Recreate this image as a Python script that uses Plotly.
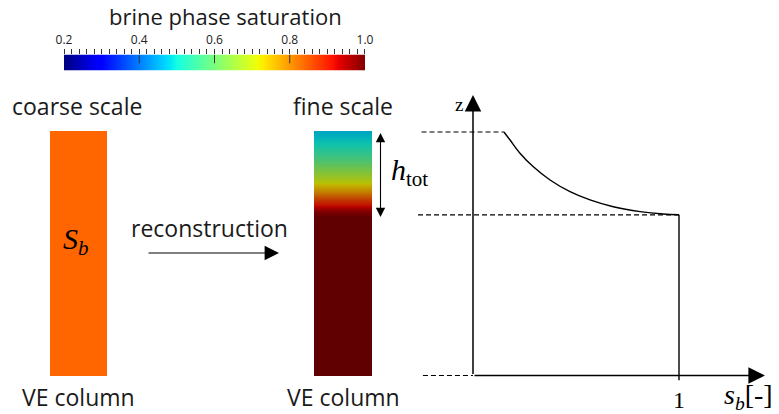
import plotly.graph_objects as go

W, H = 779, 414

# ---------------- data ----------------
cb_title = "brine phase saturation"
cb_range = [0.2, 1.0]
cb_tickvals = [0.2, 0.4, 0.6, 0.8, 1.0]
cb_ticktext = ["0.2", "0.4", "0.6", "0.8", "1.0"]
cb_minor_step = 0.02

coarse_sb = 0.84
coarse_color = "#ff6600"

fine_z = [0.0, 0.62, 0.648, 0.668, 0.693, 0.721, 0.754, 0.795, 0.836, 0.885, 0.947, 1.0]
fine_sb = [1.0, 1.0, 1.0, 0.98, 0.92, 0.86, 0.78, 0.70, 0.64, 0.57, 0.50, 0.47]

profile_s = [0.150, 0.180, 0.228, 0.293, 0.374, 0.471, 0.568, 0.681, 0.811, 0.924, 1.0]
profile_z = [1.0, 0.967, 0.913, 0.857, 0.803, 0.755, 0.721, 0.693, 0.673, 0.663, 0.66]
z_interface = 0.66
z_top = 1.0

labels = {
    "coarse": "coarse scale",
    "fine": "fine scale",
    "col": "VE column",
    "recon": "reconstruction",
}

_red = [(0, 0), (0.35, 0), (0.66, 1), (0.89, 1), (1, 0.5)]
_green = [(0, 0), (0.125, 0), (0.375, 1), (0.64, 1), (0.91, 0), (1, 0)]
_blue = [(0, 0.5), (0.11, 1), (0.34, 1), (0.65, 0), (1, 0)]


def _interp(seg, t):
    for (a, va), (b, vb) in zip(seg[:-1], seg[1:]):
        if a <= t <= b:
            return va + (vb - va) * (t - a) / (b - a) if b > a else vb
    return seg[-1][1]


def jet_scale(f=1.0):
    stops = sorted(set([p for s in (_red, _green, _blue) for p, _ in s]))
    out = []
    for t in stops:
        r, g, b = (_interp(s, t) for s in (_red, _green, _blue))
        out.append([t, "rgb(%d,%d,%d)" % (round(255 * r * f), round(255 * g * f), round(255 * b * f))])
    return out


jet = jet_scale(1.0)
jet_shaded = jet_scale(0.76)

SANS = "Open Sans"
SERIF = "Liberation Serif"
TXT = "#1a1a1a"

fig = go.Figure()

# colour bar
fig.add_trace(go.Heatmap(
    x=cb_range, y=[0, 1], z=[cb_range, cb_range], zmin=cb_range[0], zmax=cb_range[1],
    colorscale=jet, zsmooth="best", showscale=False, hoverinfo="skip",
    xaxis="x3", yaxis="y3"))

# fine-scale column
fig.add_trace(go.Heatmap(
    x=[0, 1], y=fine_z, z=[[v, v] for v in fine_sb], zmin=cb_range[0], zmax=cb_range[1],
    colorscale=jet_shaded, zsmooth="best", showscale=False, hoverinfo="skip",
    xaxis="x4", yaxis="y4"))

# saturation profile
fig.add_trace(go.Scatter(
    x=profile_s, y=profile_z, mode="lines", line=dict(color="black", width=1.4, shape="spline"),
    hoverinfo="skip", xaxis="x2", yaxis="y2"))
fig.add_trace(go.Scatter(
    x=[1.0, 1.0], y=[z_interface, -0.02], mode="lines", line=dict(color="black", width=1.4),
    hoverinfo="skip", xaxis="x2", yaxis="y2"))

shapes = []
shapes.append(dict(type="rect", xref="x", yref="y", x0=50, x1=107, y0=131, y1=376,
                   fillcolor=coarse_color, line=dict(width=0), layer="below"))
for v in cb_tickvals[1:-1]:
    shapes.append(dict(type="line", xref="x3", yref="y3", x0=v, x1=v, y0=0.45, y1=1.0,
                       line=dict(color="#333333", width=1)))
dash = "5px,3px"
shapes.append(dict(type="line", xref="x2", yref="y2", x0=-0.25, x1=profile_s[0], y0=z_top, y1=z_top,
                   line=dict(color="black", width=1.2, dash=dash)))
shapes.append(dict(type="line", xref="x2", yref="y2", x0=-0.267, x1=1.0, y0=z_interface, y1=z_interface,
                   line=dict(color="black", width=1.2, dash=dash)))
shapes.append(dict(type="line", xref="x2", yref="y2", x0=-0.243, x1=0, y0=0, y1=0,
                   line=dict(color="black", width=1.2, dash=dash)))

ann = []


def text(x, y, t, size=20, family=SANS, xref="x", yref="y", color=TXT):
    ann.append(dict(x=x, y=y, xref=xref, yref=yref, text=t, showarrow=False,
                    font=dict(family=family, size=size, color=color),
                    xanchor="center", yanchor="middle"))


text(225, 16, cb_title, 22)
text(77, 106, labels["coarse"], 23)
text(343, 106, labels["fine"], 23)
text(209, 228, labels["recon"], 23)
text(78, 397, labels["col"], 23)
text(343, 397, labels["col"], 23)
text(76, 241, "<i>S</i><sub><i>b</i></sub>", 30, SERIF, color="black")
text(409, 172, "<i>h</i><sub>tot</sub>", 30, SERIF, color="black")
text(459, 104, "z", 19, SERIF, color="black")
text(1.0, -0.1, "1", 24, SERIF, xref="x2", yref="y2", color="black")
text(748, 396, "<i>s</i><sub><i>b</i></sub>[-]", 28, SERIF, color="black")

# reconstruction arrow
ann.append(dict(x=279, y=253, ax=147, ay=253, xref="x", yref="y", axref="x", ayref="y",
                text="", showarrow=True, arrowhead=2, arrowsize=2.4, arrowwidth=1.2, arrowcolor="black"))
# h_tot double arrow
ann.append(dict(x=380.5, y=217, ax=380.5, ay=131.5, xref="x", yref="y", axref="x", ayref="y",
                text="", showarrow=True, arrowhead=2, startarrowhead=2, arrowside="end+start",
                arrowsize=1.7, startarrowsize=1.7, arrowwidth=1.1, arrowcolor="black"))
# profile axes
ann.append(dict(x=1.417, y=0, ax=0, ay=0, xref="x2", yref="y2", axref="x2", ayref="y2",
                text="", showarrow=True, arrowhead=2, arrowsize=2.2, arrowwidth=1.5, arrowcolor="black"))
ann.append(dict(x=0, y=1.152, ax=0, ay=0, xref="x2", yref="y2", axref="x2", ayref="y2",
                text="", showarrow=True, arrowhead=2, arrowsize=2.2, arrowwidth=1.5, arrowcolor="black"))

hidden = dict(visible=False, showgrid=False, zeroline=False, fixedrange=True)

fig.update_layout(
    width=W, height=H, margin=dict(l=0, r=0, t=0, b=0, pad=0, autoexpand=False), autosize=False,
    paper_bgcolor="white", plot_bgcolor="rgba(0,0,0,0)", showlegend=False,
    xaxis=dict(range=[0, W], domain=[0, 1], anchor="y", **hidden),
    yaxis=dict(range=[H, 0], domain=[0, 1], anchor="x", **hidden),
    xaxis2=dict(range=[-473 / 206, (W - 473) / 206], overlaying="x", anchor="y2", **hidden),
    yaxis2=dict(range=[(375.5 - H) / 243.5, 375.5 / 243.5], overlaying="y", anchor="x2", **hidden),
    xaxis3=dict(domain=[64 / W, 365 / W], anchor="y3", range=[cb_range[0] - 1e-4, cb_range[1] + 1e-4],
                side="top", showgrid=False, zeroline=False, showline=False, fixedrange=True,
                automargin=False,
                ticks="outside", ticklen=5, tickwidth=1, tickcolor="#333333",
                tickvals=cb_tickvals, ticktext=cb_ticktext,
                tickfont=dict(family=SANS, size=12, color="#222222"),
                minor=dict(dtick=cb_minor_step, tick0=cb_range[0], ticks="outside", ticklen=5,
                           tickwidth=1, tickcolor="#333333", showgrid=False)),
    yaxis3=dict(domain=[(H - 70.5) / H, (H - 54.5) / H], anchor="x3", range=[0, 1], **hidden),
    xaxis4=dict(domain=[314 / W, 372 / W], anchor="y4", range=[0, 1], **hidden),
    yaxis4=dict(domain=[(H - 376) / H, (H - 131) / H], anchor="x4", range=[0, 1], **hidden),
    shapes=shapes, annotations=ann,
)

fig.write_html("out.html", config={"responsive": False, "displayModeBar": False})
